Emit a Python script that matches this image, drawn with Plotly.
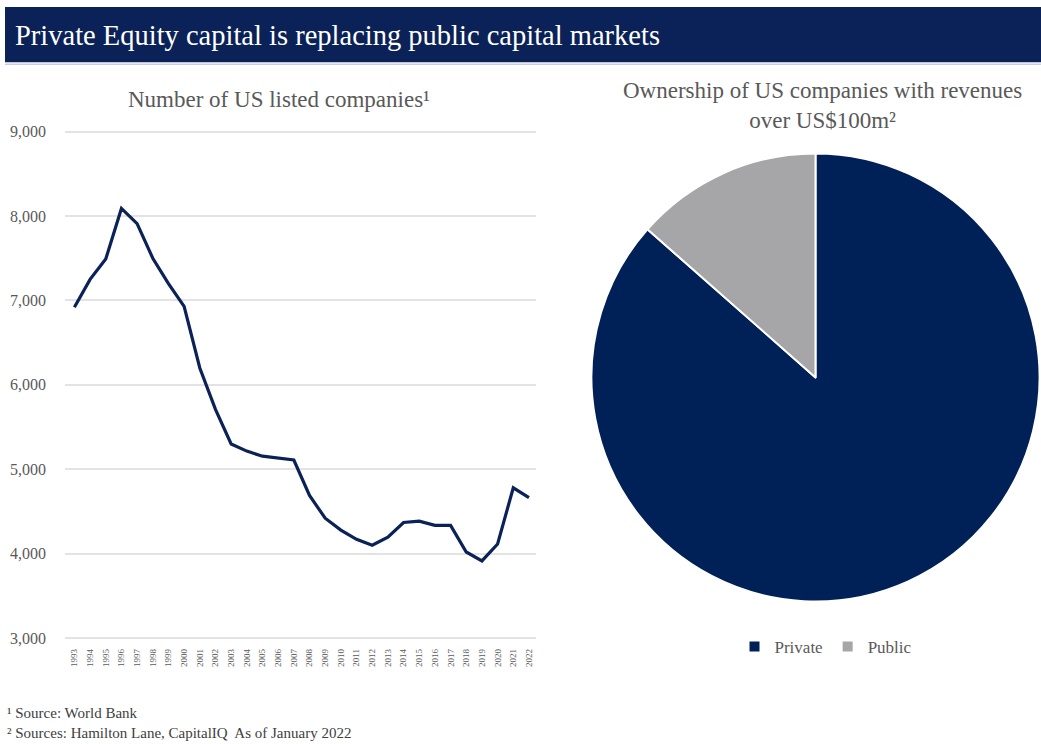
import plotly.graph_objects as go

# Number of US listed companies, 1993-2022
years = list(range(1993, 2023))
listed_companies = [6920, 7250, 7490, 8090, 7910, 7500, 7200, 6930, 6200, 5710,
                    5300, 5215, 5155, 5135, 5110, 4690, 4420, 4280, 4170, 4100,
                    4195, 4370, 4385, 4335, 4335, 4020, 3915, 4115, 4780, 4665]

# Ownership of US companies with revenues over US$100m
owner_labels = ["Private", "Public"]
owner_shares = [86.5, 13.5]

y_ticks = [3000, 4000, 5000, 6000, 7000, 8000, 9000]

W, H = 1041, 744
NAVY = "#0a2257"
PIE_NAVY = "#002157"
GREY = "#a6a6a8"
TEXT = "#595959"
FONT = "Liberation Serif"


def px_x(x):
    return x / W


def px_y(y):
    return 1 - y / H


fig = go.Figure()

fig.add_trace(go.Scatter(
    x=years, y=listed_companies, mode="lines",
    line=dict(color=NAVY, width=3.2),
    showlegend=False, hoverinfo="x+y",
))

fig.add_trace(go.Pie(
    labels=owner_labels, values=owner_shares,
    marker=dict(colors=[PIE_NAVY, GREY], line=dict(color="white", width=2)),
    sort=False, direction="clockwise", rotation=0,
    textinfo="none", hoverinfo="label+percent",
    domain=dict(x=[px_x(590), 1.0], y=[px_y(604), px_y(151)]),
))

# plot area: y 3,000 at 641px, 9,000 at 129px; x from 65px to 536px
y_lo, y_hi = 2950, 9050
ppu = (641 - 129) / 6000
top_px = 129 - (y_hi - 9000) * ppu
bot_px = 641 + (3000 - y_lo) * ppu

fig.update_layout(
    width=W, height=H, autosize=False,
    margin=dict(l=0, r=0, t=0, b=0),
    paper_bgcolor="white", plot_bgcolor="white",
    font=dict(family=FONT, color=TEXT),
    xaxis=dict(
        domain=[px_x(65), px_x(536)],
        range=[1992.4, 2022.45],
        tickmode="array", tickvals=years, ticktext=[str(y) for y in years],
        tickangle=-90, tickfont=dict(size=9, color=TEXT),
        showgrid=False, zeroline=False, showline=False,
        ticks="", ticklabelstandoff=4,
    ),
    yaxis=dict(
        domain=[px_y(bot_px), px_y(top_px)],
        range=[y_lo, y_hi],
        tickmode="array", tickvals=y_ticks,
        ticktext=[f"{v:,}" for v in y_ticks],
        tickfont=dict(size=16, color=TEXT),
        showgrid=True, gridcolor="#e3e3e3", gridwidth=1.5,
        zeroline=False, showline=False, ticks="",
        ticklabelstandoff=18,
    ),
    legend=dict(
        orientation="h", x=px_x(826), xanchor="center",
        y=px_y(650), yanchor="middle",
        font=dict(size=17, color=TEXT, family=FONT),
        itemwidth=30, traceorder="normal",
    ),
    shapes=[
        dict(type="rect", xref="paper", yref="paper",
             x0=px_x(5), x1=1.0, y0=px_y(59), y1=px_y(3),
             fillcolor=NAVY, line=dict(width=0), layer="below"),
        dict(type="line", xref="paper", yref="paper",
             x0=px_x(5), x1=1.0, y0=px_y(61), y1=px_y(61),
             line=dict(color="#c9cfe2", width=1.5)),
    ],
    annotations=[
        dict(text="Private Equity capital is replacing public capital markets",
             xref="paper", yref="paper", x=px_x(13), y=px_y(32),
             xanchor="left", yanchor="middle", showarrow=False,
             font=dict(size=28.5, color="white", family=FONT)),
        dict(text="Number of US listed companies¹",
             xref="paper", yref="paper", x=px_x(279), y=px_y(97),
             xanchor="center", yanchor="middle", showarrow=False,
             font=dict(size=23, color=TEXT, family=FONT)),
        dict(text="Ownership of US companies with revenues<br>over US$100m²",
             xref="paper", yref="paper", x=px_x(822), y=px_y(103),
             xanchor="center", yanchor="middle", showarrow=False,
             font=dict(size=23, color=TEXT, family=FONT)),
        dict(text="¹ Source: World Bank",
             xref="paper", yref="paper", x=px_x(5), y=px_y(717),
             xanchor="left", yanchor="middle", showarrow=False,
             font=dict(size=15, color="#404040", family=FONT)),
        dict(text="² Sources: Hamilton Lane, CapitalIQ  As of January 2022",
             xref="paper", yref="paper", x=px_x(5), y=px_y(737),
             xanchor="left", yanchor="middle", showarrow=False,
             font=dict(size=15, color="#404040", family=FONT)),
    ],
)

fig.write_html("out.html")
